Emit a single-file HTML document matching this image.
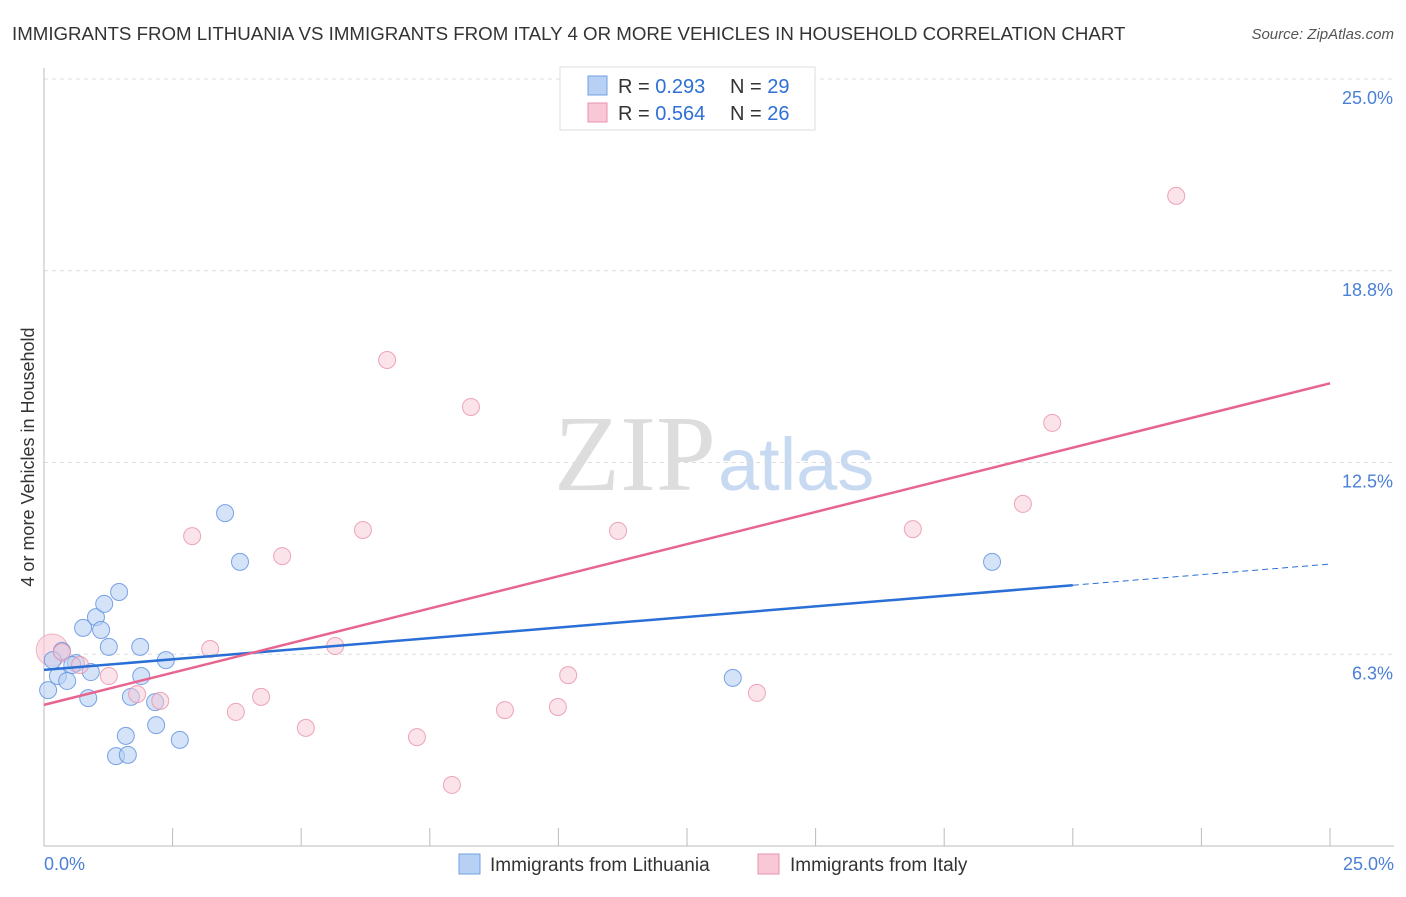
<!DOCTYPE html>
<html><head><meta charset="utf-8"><style>
body{margin:0;background:#fff;font-family:"Liberation Sans",sans-serif}
</style></head><body>
<svg id="c" width="1406" height="892" xmlns="http://www.w3.org/2000/svg">
<text x="12" y="40" font-size="18.7" fill="#333">IMMIGRANTS FROM LITHUANIA VS IMMIGRANTS FROM ITALY 4 OR MORE VEHICLES IN HOUSEHOLD CORRELATION CHART</text>
<text x="1394" y="39" font-size="15" fill="#555" text-anchor="end" font-style="italic">Source: ZipAtlas.com</text>
<text x="716" y="490" font-size="108" fill="#ddd" text-anchor="end" font-family="Liberation Serif,serif">ZIP</text>
<text x="718" y="490" font-size="74" fill="#c8daf2">atlas</text>
<text transform="translate(34,457) rotate(-90)" font-size="18" fill="#333" text-anchor="middle">4 or more Vehicles in Household</text>
<g id="grid"></g><g id="axes"></g><g id="marks"></g>
<g>
<rect x="560" y="67" width="255" height="63" fill="#fff" stroke="#ddd"/>
<rect x="588" y="76" width="19" height="19" fill="#b7d0f3" stroke="#6f9fe0"/>
<text x="618" y="93" font-size="20" fill="#333">R = <tspan fill="#2f6fd6">0.293</tspan></text>
<text x="730" y="93" font-size="20" fill="#333">N = <tspan fill="#2f6fd6">29</tspan></text>
<rect x="588" y="103" width="19" height="19" fill="#f8c8d6" stroke="#e890aa"/>
<text x="618" y="120" font-size="20" fill="#333">R = <tspan fill="#2f6fd6">0.564</tspan></text>
<text x="730" y="120" font-size="20" fill="#333">N = <tspan fill="#2f6fd6">26</tspan></text>
</g>
<g>
<rect x="459" y="854" width="21" height="20" fill="#b7d0f3" stroke="#6f9fe0"/>
<text x="490" y="871" font-size="19" fill="#333">Immigrants from Lithuania</text>
<rect x="758" y="854" width="21" height="20" fill="#f8c8d6" stroke="#e890aa"/>
<text x="790" y="871" font-size="19" fill="#333">Immigrants from Italy</text>
</g>
<text x="44" y="870" font-size="18" fill="#4a80d6">0.0%</text>
<text x="1394" y="870" font-size="18" fill="#4a80d6" text-anchor="end">25.0%</text>
</svg>
<script>
const yTicks=[6.25,12.5,18.75,25];
const yTickLabels=["6.3%","12.5%","18.8%","25.0%"];
const blueX=[.35,.27,.45,.62,.91,.08,.76,1.01,1.11,1.17,1.46,1.26,1.87,1.89,1.69,.86,2.37,2.16,2.18,1.59,2.64,1.40,1.63,3.52,3.81,13.39,18.43,.17,.55];
const blueY=[6.36,5.54,5.38,5.96,5.67,5.08,7.11,7.46,7.04,7.89,8.28,6.49,6.49,5.54,4.86,4.82,6.06,4.69,3.94,3.59,3.46,2.93,2.97,10.85,9.26,5.48,9.26,6.06,5.9];
const pinkX=[.16,.35,.70,1.26,1.81,2.26,2.88,3.23,3.73,4.22,4.63,5.09,5.66,6.20,6.67,7.25,7.93,8.30,8.96,9.99,10.19,11.16,13.86,16.89,19.03,19.60,22.01];
const pinkY=[6.39,6.32,5.90,5.54,4.95,4.73,10.10,6.42,4.37,4.86,9.45,3.85,6.52,10.30,15.84,3.55,1.99,14.31,4.43,4.53,5.57,10.27,4.99,10.33,11.15,13.79,21.19];
const blueTrend=[5.74,9.19]; // y at x=0 and x=25
const pinkTrend=[4.60,15.08];
const NS="http://www.w3.org/2000/svg";
const X=v=>44+v/25*1286, Y=v=>846-v/25*767;
function mk(t,a,p){const e=document.createElementNS(NS,t);for(const k in a)e.setAttribute(k,a[k]);document.getElementById(p).appendChild(e);return e;}
yTicks.forEach((t,i)=>{
 const g=mk('line',{x1:44,x2:1394,y1:Y(t),y2:Y(t),stroke:'#ddd','stroke-dasharray':'4,4'},'grid');
 
 
 const l=mk('text',{x:1393,y:Y(t)+25,'font-size':18,fill:'#4a80d6','text-anchor':'end'},'grid');
 l.textContent=yTickLabels[i];
 
 
});
const ax=mk('line',{x1:44,x2:44,y1:68,y2:846,stroke:'#bbb'},'axes');


const bx=mk('line',{x1:44,x2:1394,y1:846,y2:846,stroke:'#bbb'},'axes');


for(let i=0;i<=10;i++){const t=mk('line',{x1:X(i*2.5),x2:X(i*2.5),y1:828,y2:846,stroke:'#bbb'},'axes');
 
 }
mk('circle',{cx:X(pinkX[0]),cy:Y(pinkY[0]),r:16,fill:'#f8c8d6','fill-opacity':.6,stroke:'#e890aa','stroke-opacity':.6},'marks');
blueX.forEach((x,i)=>{const c=mk('circle',{cx:X(x),cy:Y(blueY[i]),r:8.5,fill:'#b7d0f3','fill-opacity':.6,stroke:'#5b8ee0','stroke-opacity':.8},'marks');
 
 });
pinkX.slice(1).forEach((x,i)=>{const c=mk('circle',{cx:X(x),cy:Y(pinkY[i+1]),r:8.5,fill:'#f8c8d6','fill-opacity':.5,stroke:'#e890aa','stroke-opacity':.8},'marks');
 
 });
const by=x=>blueTrend[0]+(blueTrend[1]-blueTrend[0])*x/25;
const b1=mk('line',{x1:X(0),y1:Y(by(0)),x2:X(20),y2:Y(by(20)),stroke:'#2a6fd6','stroke-width':2.5},'marks');


const b2=mk('line',{x1:X(20),y1:Y(by(20)),x2:X(25),y2:Y(by(25)),stroke:'#2a6fd6','stroke-width':1,'stroke-dasharray':'6,4'},'marks');


const p1=mk('line',{x1:X(0),y1:Y(pinkTrend[0]),x2:X(25),y2:Y(pinkTrend[1]),stroke:'#e8638e','stroke-width':2.5},'marks');


</script>
</body></html>
